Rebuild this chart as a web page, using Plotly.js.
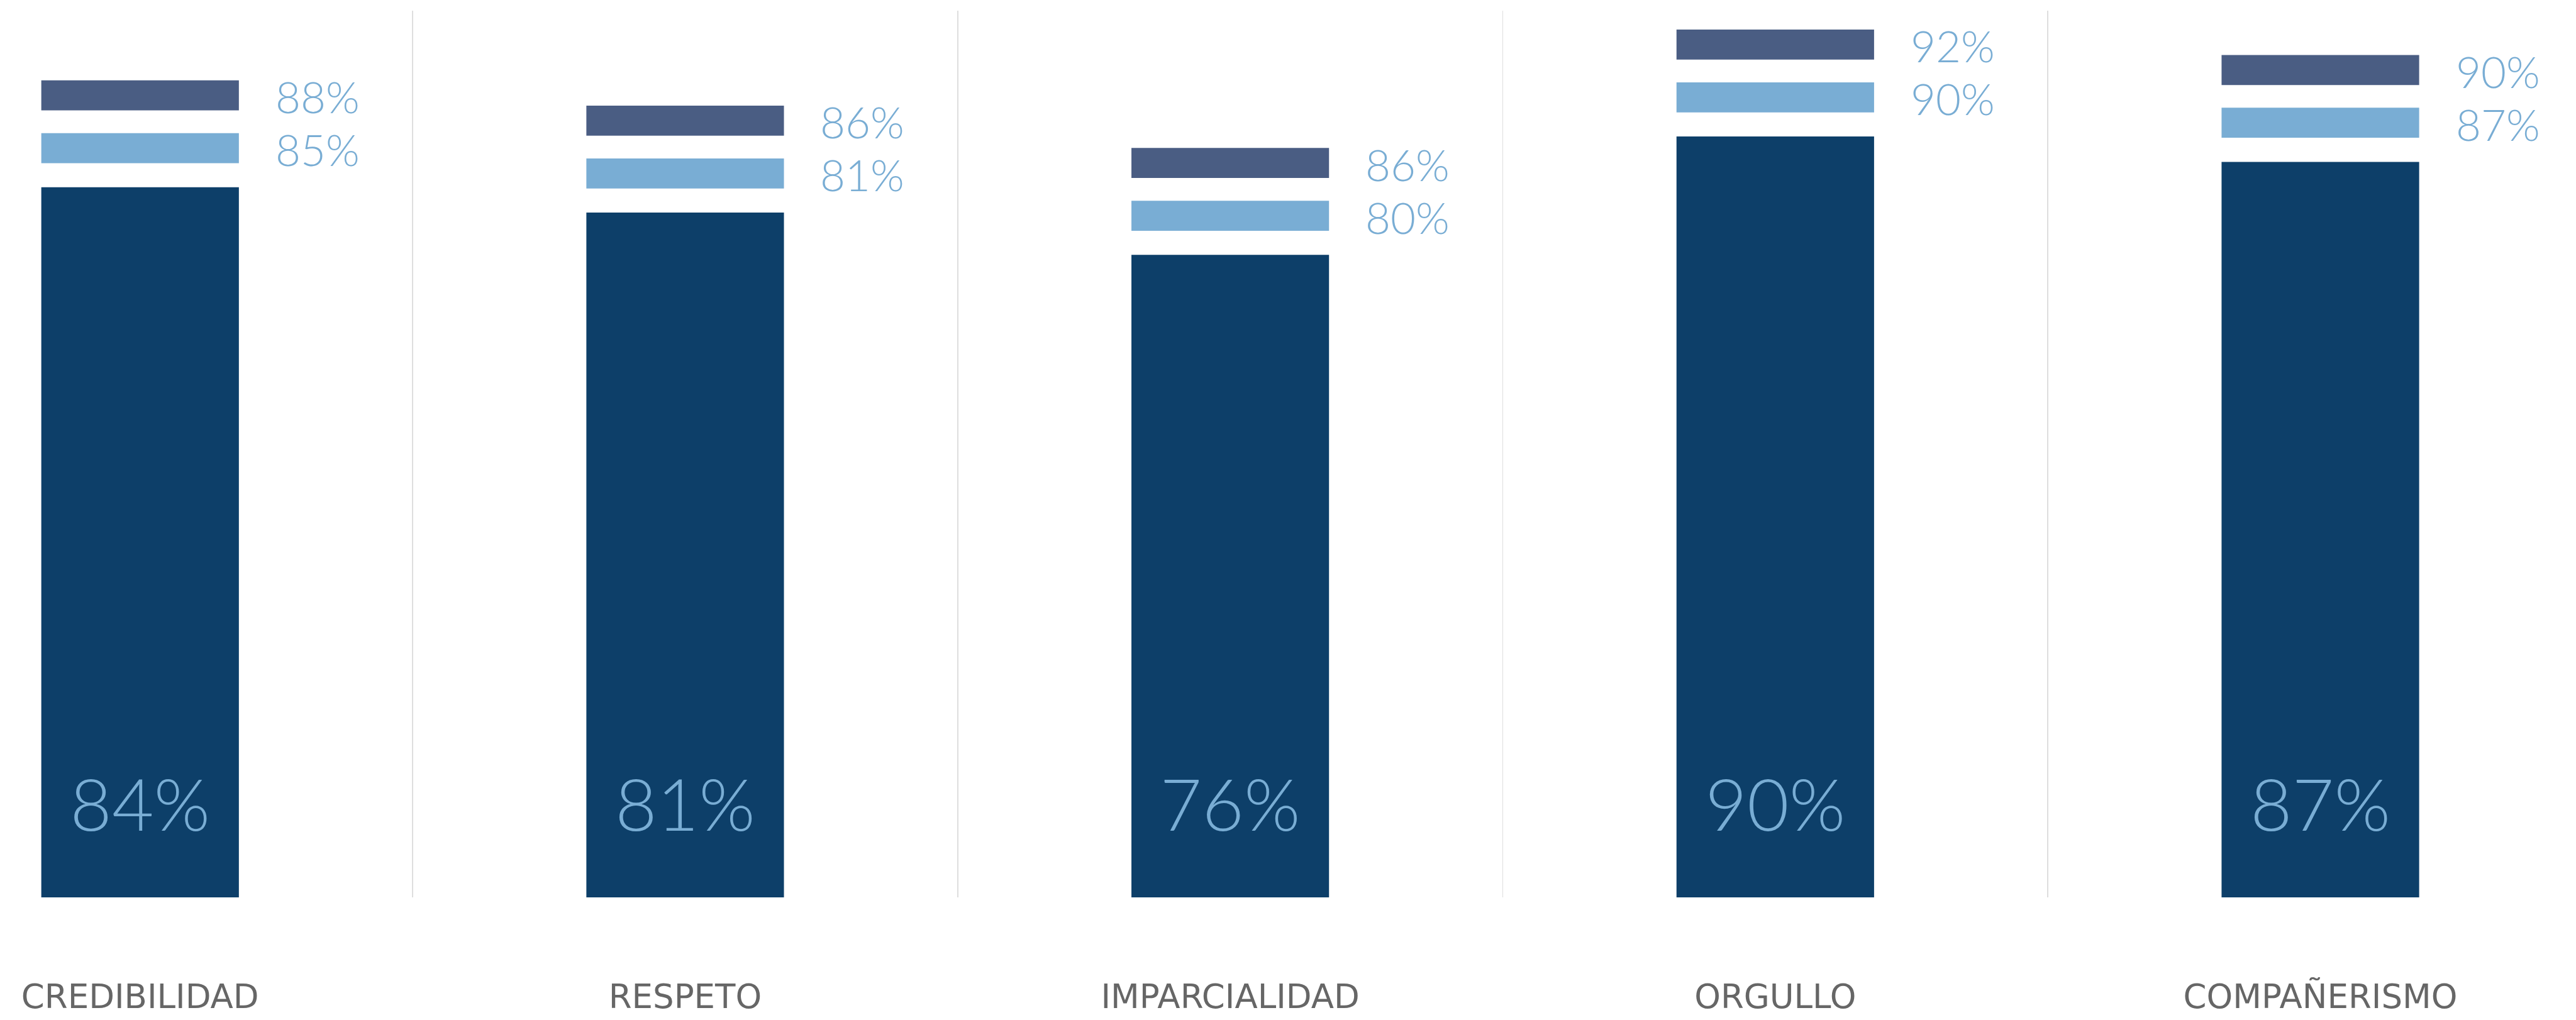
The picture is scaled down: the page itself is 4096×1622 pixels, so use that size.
<!DOCTYPE html>
<html>
<head>
<meta charset="utf-8">
<script src="https://cdn.plot.ly/plotly-3.0.1.min.js"></script>
<style>
  html, body { margin: 0; padding: 0; background: #ffffff; }
  #chart { width: 4096px; height: 1622px; }
</style>
</head>
<body>
<div id="chart"></div>
<script>
// ---- Data ----
const categorias = ['CREDIBILIDAD', 'RESPETO', 'IMPARCIALIDAD', 'ORGULLO', 'COMPAÑERISMO'];
const actual     = [84, 81, 76, 90, 87];   // dark bars
const serieClara = [85, 81, 80, 90, 87];   // light-blue marker
const serieGris  = [88, 86, 86, 92, 90];   // slate marker

// ---- Style / layout constants ----
const C_DARK  = '#0d3f69';
const C_LIGHT = '#79add4';
const C_SLATE = '#4a5d83';
const BAR_W   = 0.3625;
const GAP1    = 2.85;   // gap between dark bar top and light marker (axis units)
const THICK   = 3.55;   // marker thickness (axis units)
const GAP2    = 2.69;   // gap between light and slate markers
const INNER_Y = 10.05;  // vertical position of the inside label
const LABEL_XSHIFT = 213;
const NUM_FONT = 'Lato, "Open Sans", sans-serif';

const baseClara = actual.map(v => v + GAP1);
const baseGris  = actual.map(v => v + GAP1 + THICK + GAP2);
const grosor    = categorias.map(() => THICK);

const traces = [
  {
    type: 'bar', x: categorias, y: actual, width: BAR_W,
    marker: { color: C_DARK }, hoverinfo: 'skip'
  },
  {
    type: 'bar', x: categorias, y: grosor, base: baseClara, width: BAR_W,
    marker: { color: C_LIGHT }, hoverinfo: 'skip'
  },
  {
    type: 'bar', x: categorias, y: grosor, base: baseGris, width: BAR_W,
    marker: { color: C_SLATE }, hoverinfo: 'skip'
  },
  {
    type: 'scatter', mode: 'text', x: categorias,
    y: categorias.map(() => INNER_Y),
    text: actual.map(v => v + '%'),
    textposition: 'middle center',
    textfont: { family: NUM_FONT, size: 115, color: C_LIGHT, weight: 300 },
    hoverinfo: 'skip', cliponaxis: false
  }
];

const annotations = [];
categorias.forEach((c, i) => {
  annotations.push({
    x: c, y: baseGris[i] + THICK / 2, xref: 'x', yref: 'y',
    text: serieGris[i] + '%', showarrow: false,
    xanchor: 'left', yanchor: 'middle', xshift: LABEL_XSHIFT, yshift: -2,
    font: { family: NUM_FONT, size: 69, color: C_LIGHT, weight: 300 }
  });
  annotations.push({
    x: c, y: baseClara[i] + THICK / 2, xref: 'x', yref: 'y',
    text: serieClara[i] + '%', showarrow: false,
    xanchor: 'left', yanchor: 'middle', xshift: LABEL_XSHIFT, yshift: -2,
    font: { family: NUM_FONT, size: 69, color: C_LIGHT, weight: 300 }
  });
});

const layout = {
  width: 4096, height: 1622,
  margin: { l: 0, r: 0, t: 17, b: 195, pad: 0 },
  paper_bgcolor: '#ffffff', plot_bgcolor: '#ffffff',
  barmode: 'overlay',
  showlegend: false,
  hovermode: false,
  xaxis: {
    type: 'category',
    range: [-0.257, 4.469],
    tickson: 'boundaries',
    showgrid: true, gridcolor: '#dedede', gridwidth: 1.5,
    zeroline: false, showline: false,
    ticks: '', ticklabelstandoff: 122,
    tickfont: { family: '"DejaVu Sans", sans-serif', size: 53, color: '#666666' },
    fixedrange: true
  },
  yaxis: {
    range: [0, 104.88],
    showgrid: false, zeroline: false, showline: false,
    showticklabels: false, ticks: '', fixedrange: true
  },
  annotations: annotations
};

Plotly.newPlot('chart', traces, layout, { staticPlot: true, displayModeBar: false });
</script>
</body>
</html>
